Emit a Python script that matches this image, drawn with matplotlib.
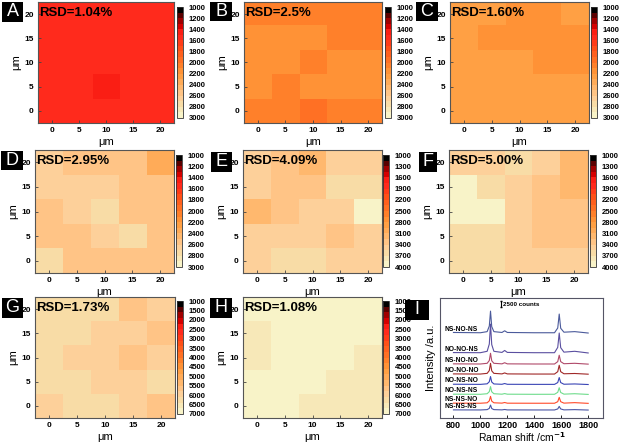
import numpy as np
import matplotlib
matplotlib.use('Agg')
from matplotlib import pyplot as plt
from matplotlib.colors import ListedColormap, Normalize
from matplotlib.patches import Rectangle

plt.rcParams['font.family'] = ['Liberation Sans', 'DejaVu Sans']
plt.rcParams['font.weight'] = 'bold'

W, H = 623, 443  # px

# 20 colour levels, low value (black) -> high value (pale yellow)
level_colors = ['#000000', '#5a0000', '#a00000', '#d40000', '#fa1e14',
                '#ff2a1c', '#ff3c18', '#ff5018', '#ff601e', '#ff7024',
                '#ff802a', '#ff9236', '#ffa044', '#ffab58', '#ffb86e',
                '#ffc486', '#fdd09a', '#f8dca6', '#f7e8b8', '#f8f3c8']
cmap = ListedColormap(level_colors)

# mapping grids, top row = y 20 um, bottom row = y 0 um
map_a = [[1550, 1550, 1550, 1550, 1550],
         [1550, 1550, 1550, 1550, 1550],
         [1550, 1550, 1550, 1550, 1550],
         [1550, 1550, 1480, 1550, 1550],
         [1550, 1550, 1550, 1550, 1550]]
map_b = [[2050, 2050, 2050, 2050, 2050],
         [2150, 2150, 2150, 2050, 2050],
         [2150, 2150, 2050, 2150, 2150],
         [2150, 2050, 2150, 2150, 2150],
         [2050, 2050, 1950, 2050, 2050]]
map_c = [[2250, 2250, 2150, 2150, 2250],
         [2250, 2150, 2150, 2150, 2150],
         [2250, 2250, 2250, 2150, 2150],
         [2250, 2250, 2250, 2250, 2250],
         [2250, 2250, 2250, 2250, 2250]]
map_d = [[2650, 2550, 2550, 2550, 2350],
         [2650, 2650, 2650, 2550, 2550],
         [2550, 2650, 2750, 2550, 2550],
         [2550, 2550, 2650, 2750, 2550],
         [2750, 2550, 2550, 2550, 2550]]
map_e = [[3475, 3325, 3175, 3475, 3475],
         [3475, 3325, 3325, 3625, 3625],
         [3175, 3325, 3475, 3475, 3900],
         [3475, 3475, 3475, 3325, 3475],
         [3475, 3625, 3625, 3475, 3475]]
map_f = [[3475, 3475, 3625, 3475, 3175],
         [3850, 3625, 3475, 3325, 3100],
         [3850, 3850, 3475, 3250, 3250],
         [3625, 3625, 3475, 3325, 3325],
         [3625, 3625, 3475, 3400, 3400]]
map_g = [[6250, 6250, 6250, 5650, 5950],
         [6250, 6250, 5950, 5950, 5650],
         [6250, 5950, 5950, 5650, 5950],
         [6250, 6250, 5950, 5950, 6250],
         [5950, 6250, 6250, 5950, 5650]]
map_h = [[6850, 6850, 6850, 6850, 6850],
         [6550, 6850, 6850, 6850, 6850],
         [6550, 6850, 6850, 6850, 6550],
         [6850, 6850, 6850, 6550, 6550],
         [6850, 6850, 6550, 6550, 6550]]

ticks_3000 = [1000, 1200, 1400, 1600, 1800, 2000, 2200, 2400, 2600, 2800, 3000]
ticks_4000 = [1000, 1300, 1600, 1900, 2200, 2500, 2800, 3100, 3400, 3700, 4000]
ticks_7000 = [1000, 1500, 2000, 2500, 3000, 3500, 4000, 4500, 5000, 5500, 6000, 6500, 7000]

pos_um = [0, 5, 10, 15, 20]

# Raman spectra (panel I)
spec_names = ['NS-NO-NS', 'NO-NO-NS', 'NS-NO-NO', 'NO-NO-NO',
              'NO-NS-NO', 'NO-NS-NS', 'NS-NS-NO', 'NS-NS-NS']
spec_colors = ['#4b5a9b', '#5a4fa0', '#b04a6a', '#a02828',
               '#3a45b5', '#6fdc8c', '#ff4a2a', '#4a55a5']
spec_base = [30450, 23300, 19300, 15700, 12000, 8450, 5250, 2850]
shift = [800, 1000, 1050, 1066, 1075, 1084, 1100, 1160, 1180, 1200,
         1400, 1550, 1574, 1585, 1596, 1620, 1700, 1800]
spec_y = [
    [200, 100, 500, 2500, 7850, 2300, 500, 200, 800, 200, 100, 100, 1800, 6800, 1700, 300, 500, 0],
    [150, 100, 600, 3200, 10350, 3000, 600, 200, 900, 200, 100, 100, 2000, 7150, 1900, 300, 600, 0],
    [100, 50, 300, 1300, 3900, 1200, 300, 100, 500, 100, 50, 50, 900, 3200, 900, 150, 300, 0],
    [100, 50, 300, 1300, 3900, 1200, 300, 100, 450, 100, 50, 50, 900, 3200, 900, 150, 250, 0],
    [100, 50, 250, 1000, 2850, 900, 200, 80, 350, 80, 50, 50, 700, 2500, 700, 100, 200, 0],
    [80, 40, 250, 1000, 2800, 950, 250, 80, 300, 80, 40, 50, 750, 2400, 700, 100, 250, 0],
    [80, 40, 200, 900, 2500, 800, 200, 80, 300, 60, 40, 40, 600, 2150, 600, 80, 250, 0],
    [60, 30, 150, 600, 1800, 550, 150, 60, 200, 50, 30, 30, 400, 1300, 400, 60, 150, 0],
]
bar_counts = 2500


def rect(l, t, r, b):
    return [l / W, 1 - b / H, (r - l) / W, (b - t) / H]


def letter_box(fig, s, l, t, r, b):
    fig.add_artist(Rectangle((l / W, 1 - b / H), (r - l) / W, (b - t) / H,
                             transform=fig.transFigure, facecolor='black',
                             edgecolor='none', zorder=10))
    fig.text((l + r) / 2 / W, 1 - (t + b) / 2 / H, s, color='white',
             fontsize=13, fontweight='normal', ha='center', va='center', zorder=11)


panels = [
    ('A', map_a, 1000, 3000, ticks_3000, 'RSD=1.04%'),
    ('B', map_b, 1000, 3000, ticks_3000, 'RSD=2.5%'),
    ('C', map_c, 1000, 3000, ticks_3000, 'RSD=1.60%'),
    ('D', map_d, 1000, 3000, ticks_3000, 'RSD=2.95%'),
    ('E', map_e, 1000, 4000, ticks_4000, 'RSD=4.09%'),
    ('F', map_f, 1000, 4000, ticks_4000, 'RSD=5.00%'),
    ('G', map_g, 1000, 7000, ticks_7000, 'RSD=1.73%'),
    ('H', map_h, 1000, 7000, ticks_7000, 'RSD=1.08%'),
]
# layout in pixels: axes, colorbar, letter box
layout = [
    ((38, 2, 174, 123), (177, 7, 183, 118), (2, 2, 23, 22)),
    ((244, 2, 382, 123), (385, 7, 391, 118), (210, 2, 232, 21)),
    ((450, 2, 589, 123), (591, 7, 597, 118), (416, 2, 438, 21)),
    ((35, 150, 174, 273), (176, 155, 182, 267), (1, 151, 23, 170)),
    ((243, 150, 382, 273), (383, 155, 389, 267), (211, 152, 232, 172)),
    ((449, 150, 588, 273), (590, 155, 596, 267), (419, 152, 437, 172)),
    ((35, 297, 175, 418), (177, 301, 183, 414), (2, 298, 23, 318)),
    ((243, 297, 382, 418), (383, 301, 389, 414), (210, 298, 232, 318)),
]

fig = plt.figure(figsize=(W / 100, H / 100), dpi=100)

for (name, grid, vmin, vmax, cticks, rsd), (arect, crect, brect) in zip(panels, layout):
    ax = fig.add_axes(rect(*arect))
    im = ax.imshow(np.array(grid, dtype=float), cmap=cmap,
                   norm=Normalize(vmin, vmax), origin='upper',
                   extent=[-2.5, 22.5, -2.5, 22.5], aspect='auto',
                   interpolation='nearest')
    ax.set_xticks(pos_um)
    ax.set_yticks(pos_um)
    ax.tick_params(direction='in', length=2, width=0.6, color='#444444',
                   pad=3, labelsize=6)
    ax.set_xlabel('μm', fontsize=8, labelpad=2)
    ax.set_ylabel('μm', fontsize=8, labelpad=2)
    for sp in ax.spines.values():
        sp.set_color('#555555')
        sp.set_linewidth(0.8)
    ax.text(0.01, 0.91, rsd, transform=ax.transAxes, fontsize=9.5,
            ha='left', va='center')

    cax = fig.add_axes(rect(*crect))
    cb = fig.colorbar(im, cax=cax)
    cb.set_ticks(cticks)
    cb.set_ticklabels([str(t) for t in cticks])
    cax.invert_yaxis()
    cax.tick_params(length=0, pad=4, labelsize=5.5)
    cb.outline.set_linewidth(0.6)
    cb.outline.set_edgecolor('#333333')

    letter_box(fig, name, *brect)

# panel I: spectra
ax = fig.add_axes(rect(440, 298, 603, 418))
for nm, c, base, ys in zip(spec_names, spec_colors, spec_base, spec_y):
    ax.plot(shift, np.array(ys) + base, color=c, lw=0.8)
    ax.text(737, base + 1400, nm, fontsize=4.8, ha='left', va='center')
ax.plot([1150, 1150], [39600, 39600 + bar_counts], color='black', lw=0.8,
        marker='_', ms=2)
ax.text(1165, 40850, '2500 counts', fontsize=4.5, ha='left', va='center')
ax.set_xlim(700, 1910)
ax.set_ylim(0, 43000)
ax.set_xticks([800, 1000, 1200, 1400, 1600, 1800])
ax.set_yticks([])
ax.tick_params(direction='in', length=2, width=0.6, pad=2, labelsize=6.5)
ax.set_xlabel('Raman shift /cm$^{\\mathbf{-1}}$', fontsize=7.5, labelpad=0.5)
ax.set_ylabel('Intensity /a.u.', fontsize=8, labelpad=3)
for sp in ax.spines.values():
    sp.set_color('#555566')
    sp.set_linewidth(0.8)
letter_box(fig, 'I', 405, 300, 429, 320)

fig.savefig('out.png', dpi=100)
